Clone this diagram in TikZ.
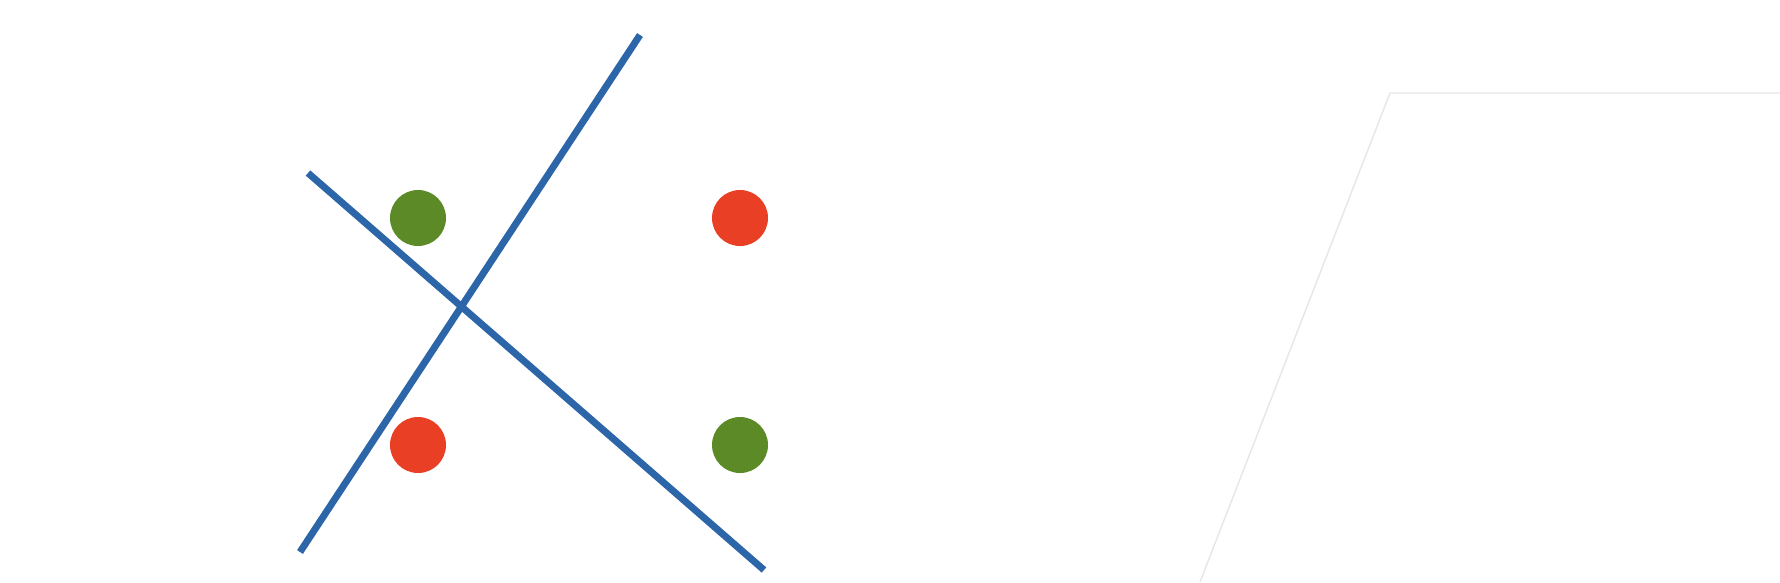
\documentclass[tikz,border=0pt]{standalone}
\definecolor{lineblue}{HTML}{2C66A8}
\definecolor{dotgreen}{HTML}{5C8A27}
\definecolor{dotred}{HTML}{E83F25}
\definecolor{faint}{HTML}{E6E6E6}
\tikzset{
  sepline/.style={draw=lineblue, line width=5.2pt},
  dot/.style={circle, inner sep=0pt, minimum size=42pt},
  gdot/.style={dot, fill=dotgreen},
  rdot/.style={dot, fill=dotred},
  faintline/.style={draw=faint, line width=1pt}
}
\begin{document}
\begin{tikzpicture}[x=0.75pt,y=-0.75pt]
\useasboundingbox (0,0) rectangle (1780,582);
\fill[white] (0,0) rectangle (1780,582);
% faint outline at right
\coordinate (pb) at (1200,582);
\coordinate (pt) at (1390,93);
\coordinate (pr) at (1780,93);
\draw[faintline] (pb) -- (pt) -- (pr);
% dots
\node[gdot] (g1) at (418,218) {};
\node[rdot] (r1) at (740,218) {};
\node[rdot] (r2) at (418,445) {};
\node[gdot] (g2) at (740,445) {};
% separating lines
\coordinate (a1) at (308,173);
\coordinate (a2) at (764,570);
\coordinate (b1) at (640,35);
\coordinate (b2) at (300,552);
\draw[sepline] (a1) -- (a2);
\draw[sepline] (b1) -- (b2);
\end{tikzpicture}
\end{document}
